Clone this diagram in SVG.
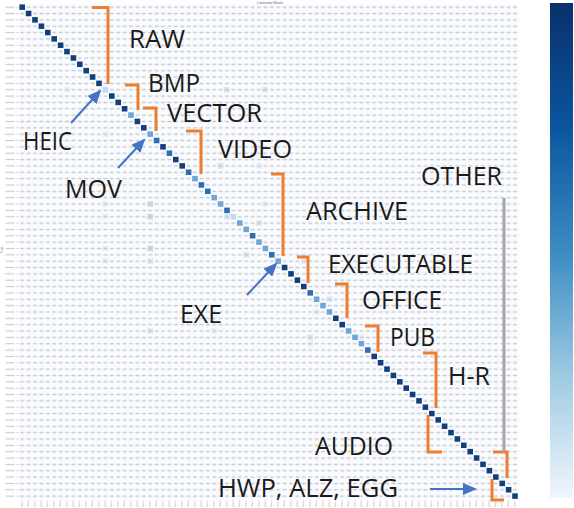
<svg xmlns="http://www.w3.org/2000/svg" width="574" height="508" viewBox="0 0 574 508">
<style>
.lbl{font-family:"Open Sans","Noto Sans",sans-serif;font-size:25px;fill:#1a1a1a}
.br{fill:none;stroke:#ED7D31;stroke-width:3;stroke-linejoin:miter}
.ar{stroke:#4472C4;stroke-width:2;fill:none;marker-end:url(#ah)}
.d{fill:#123f7c}
.m{fill:#2c6fb0}
.l{fill:#6ea6d6}
.v{fill:#c4daee}
.f{fill:#d7e6f4}
.ff{fill:#e6eff8}
.tiny{font-family:"Liberation Sans",sans-serif;font-size:3.5px;fill:#666}
</style>
<defs>
<pattern id="num" patternUnits="userSpaceOnUse" x="19" y="4" width="6.4" height="6.35">
<rect x="1.3" y="2.5" width="3.8" height="1.4" fill="#c4c7cc"/>
</pattern>
<pattern id="ytk" patternUnits="userSpaceOnUse" x="4" y="4" width="15" height="6.35">
<rect x="1.5" y="2.6" width="9" height="1.2" fill="#c9cbcf"/>
<rect x="12.5" y="3" width="2" height="0.5" fill="#999"/>
</pattern>
<pattern id="xtk" patternUnits="userSpaceOnUse" x="19" y="500" width="6.4" height="8">
<rect x="2.6" y="0" width="0.5" height="1.5" fill="#999"/>
<rect x="2.4" y="2" width="1.1" height="5" fill="#c9cbcf"/>
</pattern>
<linearGradient id="cb" x1="0" y1="0" x2="0" y2="1">
<stop offset="0" stop-color="#08306b"/>
<stop offset="0.25" stop-color="#0b559f"/>
<stop offset="0.5" stop-color="#3b8bc2"/>
<stop offset="0.75" stop-color="#9dc9e1"/>
<stop offset="1" stop-color="#f0f6fc"/>
</linearGradient>
<marker id="ah" markerWidth="7" markerHeight="6" refX="6" refY="3" orient="auto" markerUnits="strokeWidth">
<path d="M0,0 L7,3 L0,6 z" fill="#4472C4"/>
</marker>
</defs>
<rect width="574" height="508" fill="#ffffff"/>
<g id="matrix">
<rect x="19" y="4" width="499.2" height="495.3" fill="#f9fbfe"/>
<g id="offdiag">
<rect class="ff" x="64.2" y="86.95" width="5.6" height="5.5"/>
<rect class="f" x="223.8" y="86.95" width="5.6" height="5.5"/>
<rect class="f" x="262.2" y="86.95" width="5.6" height="5.5"/>
<rect class="ff" x="345.8" y="86.95" width="5.6" height="5.5"/>
<rect class="ff" x="102.6" y="131.4" width="5.6" height="5.5"/>
<rect class="f" x="147.4" y="131.4" width="5.6" height="5.5"/>
<rect class="ff" x="102.6" y="201.25" width="5.6" height="5.5"/>
<rect class="v" x="147.4" y="201.25" width="5.6" height="5.5"/>
<rect class="ff" x="102.6" y="213.95" width="5.6" height="5.5"/>
<rect class="v" x="147.4" y="213.95" width="5.6" height="5.5"/>
<rect class="ff" x="102.6" y="245.7" width="5.6" height="5.5"/>
<rect class="v" x="147.4" y="245.7" width="5.6" height="5.5"/>
<rect class="f" x="147.4" y="258.4" width="5.6" height="5.5"/>
<rect class="ff" x="102.6" y="258.4" width="5.6" height="5.5"/>
<rect class="f" x="147.4" y="328.25" width="5.6" height="5.5"/>
<rect class="ff" x="211.4" y="328.25" width="5.6" height="5.5"/>
<rect class="f" x="217.8" y="163.15" width="5.6" height="5.5"/>
<rect class="ff" x="256.2" y="163.15" width="5.6" height="5.5"/>
<rect class="f" x="224.2" y="213.95" width="5.6" height="5.5"/>
<rect class="f" x="256.2" y="220.3" width="5.6" height="5.5"/>
<rect class="ff" x="262.2" y="201.25" width="5.6" height="5.5"/>
<rect class="f" x="243.4" y="252.05" width="5.6" height="5.5"/>
<rect class="f" x="326.6" y="296.5" width="5.6" height="5.5"/>
<rect class="ff" x="313.8" y="309.2" width="5.6" height="5.5"/>
<rect class="f" x="307.4" y="334.6" width="5.6" height="5.5"/>
<rect class="ff" x="307.4" y="340.95" width="5.6" height="5.5"/>
<rect class="ff" x="358.6" y="334.6" width="5.6" height="5.5"/>
<rect class="ff" x="301.0" y="258.4" width="5.6" height="5.5"/>
</g>
<rect x="19" y="4" width="499.2" height="495.3" fill="url(#num)"/>
<g id="diag">
<rect class="d" x="19.4" y="4.4" width="5.6" height="5.5"/>
<rect class="d" x="25.8" y="10.75" width="5.6" height="5.5"/>
<rect class="d" x="32.2" y="17.1" width="5.6" height="5.5"/>
<rect class="d" x="38.6" y="23.45" width="5.6" height="5.5"/>
<rect class="d" x="45.0" y="29.8" width="5.6" height="5.5"/>
<rect class="d" x="51.4" y="36.15" width="5.6" height="5.5"/>
<rect class="d" x="57.8" y="42.5" width="5.6" height="5.5"/>
<rect class="d" x="64.2" y="48.85" width="5.6" height="5.5"/>
<rect class="d" x="70.6" y="55.2" width="5.6" height="5.5"/>
<rect class="d" x="77.0" y="61.55" width="5.6" height="5.5"/>
<rect class="d" x="83.4" y="67.9" width="5.6" height="5.5"/>
<rect class="d" x="89.8" y="74.25" width="5.6" height="5.5"/>
<rect class="d" x="96.2" y="80.6" width="5.6" height="5.5"/>
<rect class="v" x="102.6" y="86.95" width="5.6" height="5.5"/>
<rect class="d" x="109.0" y="93.3" width="5.6" height="5.5"/>
<rect class="d" x="115.4" y="99.65" width="5.6" height="5.5"/>
<rect class="d" x="121.8" y="106.0" width="5.6" height="5.5"/>
<rect class="l" x="128.2" y="112.35" width="5.6" height="5.5"/>
<rect class="d" x="134.6" y="118.7" width="5.6" height="5.5"/>
<rect class="d" x="141.0" y="125.05" width="5.6" height="5.5"/>
<rect class="l" x="147.4" y="131.4" width="5.6" height="5.5"/>
<rect class="m" x="153.8" y="137.75" width="5.6" height="5.5"/>
<rect class="d" x="160.2" y="144.1" width="5.6" height="5.5"/>
<rect class="m" x="166.6" y="150.45" width="5.6" height="5.5"/>
<rect class="d" x="173.0" y="156.8" width="5.6" height="5.5"/>
<rect class="d" x="179.4" y="163.15" width="5.6" height="5.5"/>
<rect class="m" x="185.8" y="169.5" width="5.6" height="5.5"/>
<rect class="l" x="192.2" y="175.85" width="5.6" height="5.5"/>
<rect class="m" x="198.6" y="182.2" width="5.6" height="5.5"/>
<rect class="m" x="205.0" y="188.55" width="5.6" height="5.5"/>
<rect class="l" x="211.4" y="194.9" width="5.6" height="5.5"/>
<rect class="l" x="217.8" y="201.25" width="5.6" height="5.5"/>
<rect class="m" x="224.2" y="207.6" width="5.6" height="5.5"/>
<rect class="v" x="230.6" y="213.95" width="5.6" height="5.5"/>
<rect class="l" x="237.0" y="220.3" width="5.6" height="5.5"/>
<rect class="l" x="243.4" y="226.65" width="5.6" height="5.5"/>
<rect class="m" x="249.8" y="233.0" width="5.6" height="5.5"/>
<rect class="l" x="256.2" y="239.35" width="5.6" height="5.5"/>
<rect class="l" x="262.6" y="245.7" width="5.6" height="5.5"/>
<rect class="m" x="269.0" y="252.05" width="5.6" height="5.5"/>
<rect class="l" x="275.4" y="258.4" width="5.6" height="5.5"/>
<rect class="d" x="281.8" y="264.75" width="5.6" height="5.5"/>
<rect class="d" x="288.2" y="271.1" width="5.6" height="5.5"/>
<rect class="d" x="294.6" y="277.45" width="5.6" height="5.5"/>
<rect class="d" x="301.0" y="283.8" width="5.6" height="5.5"/>
<rect class="m" x="307.4" y="290.15" width="5.6" height="5.5"/>
<rect class="l" x="313.8" y="296.5" width="5.6" height="5.5"/>
<rect class="l" x="320.2" y="302.85" width="5.6" height="5.5"/>
<rect class="l" x="326.6" y="309.2" width="5.6" height="5.5"/>
<rect class="d" x="333.0" y="315.55" width="5.6" height="5.5"/>
<rect class="d" x="339.4" y="321.9" width="5.6" height="5.5"/>
<rect class="l" x="345.8" y="328.25" width="5.6" height="5.5"/>
<rect class="l" x="352.2" y="334.6" width="5.6" height="5.5"/>
<rect class="l" x="358.6" y="340.95" width="5.6" height="5.5"/>
<rect class="m" x="365.0" y="347.3" width="5.6" height="5.5"/>
<rect class="d" x="371.4" y="353.65" width="5.6" height="5.5"/>
<rect class="d" x="377.8" y="360.0" width="5.6" height="5.5"/>
<rect class="d" x="384.2" y="366.35" width="5.6" height="5.5"/>
<rect class="d" x="390.6" y="372.7" width="5.6" height="5.5"/>
<rect class="d" x="397.0" y="379.05" width="5.6" height="5.5"/>
<rect class="d" x="403.4" y="385.4" width="5.6" height="5.5"/>
<rect class="d" x="409.8" y="391.75" width="5.6" height="5.5"/>
<rect class="d" x="416.2" y="398.1" width="5.6" height="5.5"/>
<rect class="d" x="422.6" y="404.45" width="5.6" height="5.5"/>
<rect class="d" x="429.0" y="410.8" width="5.6" height="5.5"/>
<rect class="d" x="435.4" y="417.15" width="5.6" height="5.5"/>
<rect class="d" x="441.8" y="423.5" width="5.6" height="5.5"/>
<rect class="d" x="448.2" y="429.85" width="5.6" height="5.5"/>
<rect class="d" x="454.6" y="436.2" width="5.6" height="5.5"/>
<rect class="d" x="461.0" y="442.55" width="5.6" height="5.5"/>
<rect class="d" x="467.4" y="448.9" width="5.6" height="5.5"/>
<rect class="d" x="473.8" y="455.25" width="5.6" height="5.5"/>
<rect class="d" x="480.2" y="461.6" width="5.6" height="5.5"/>
<rect class="d" x="486.6" y="467.95" width="5.6" height="5.5"/>
<rect class="d" x="493.0" y="474.3" width="5.6" height="5.5"/>
<rect class="d" x="499.4" y="480.65" width="5.6" height="5.5"/>
<rect class="d" x="505.8" y="487.0" width="5.6" height="5.5"/>
<rect class="d" x="512.2" y="493.35" width="5.6" height="5.5"/>
</g>
<rect x="4" y="4" width="15" height="495.3" fill="url(#ytk)"/>
<rect x="19" y="500" width="499.2" height="8" fill="url(#xtk)"/>
<text class="tiny" x="270" y="3.5" text-anchor="middle">Confusion Matrix</text>
<text class="tiny" transform="translate(3,250) rotate(-90)" text-anchor="middle" font-size="2.5">True</text>
</g>
<g id="colorbar">
<rect x="550" y="3" width="23" height="495" fill="url(#cb)"/>
</g>
<g id="connectors">
<path class="br" d="M92,7.5 H108 V84"/>
<path class="br" d="M125,85 H138 V110"/>
<path class="br" d="M143,108 H156 V131"/>
<path class="br" d="M186,131 H201 V174"/>
<path class="br" d="M271,174 H283 V256"/>
<path class="br" d="M297,257 H308 V283"/>
<path class="br" d="M335,284 H347 V318"/>
<path class="br" d="M365,326 H378 V352"/>
<path class="br" d="M423,353 H436 V408"/>
<path class="br" d="M428,415 V452 H442"/>
<path class="br" d="M493,452 H507 V478"/>
<path class="br" d="M492,479 V500 H504"/>
<path d="M504,198 V452" stroke="#a6a6a6" stroke-width="3" fill="none"/>
<path class="ar" d="M71,123 L100,91"/>
<path class="ar" d="M118,168 L144,140"/>
<path class="ar" d="M247,295 L276,264"/>
<path class="ar" d="M430,489 L475,489"/>
</g>
<g id="labels">
<text class="lbl" x="129" y="48" textLength="56" lengthAdjust="spacingAndGlyphs">RAW</text>
<text class="lbl" x="148" y="92" textLength="52" lengthAdjust="spacingAndGlyphs">BMP</text>
<text class="lbl" x="167" y="122" textLength="95" lengthAdjust="spacingAndGlyphs">VECTOR</text>
<text class="lbl" x="218" y="158" textLength="74" lengthAdjust="spacingAndGlyphs">VIDEO</text>
<text class="lbl" x="306" y="220" textLength="102" lengthAdjust="spacingAndGlyphs">ARCHIVE</text>
<text class="lbl" x="421" y="185" textLength="81" lengthAdjust="spacingAndGlyphs">OTHER</text>
<text class="lbl" x="328" y="273" textLength="145" lengthAdjust="spacingAndGlyphs">EXECUTABLE</text>
<text class="lbl" x="362" y="309" textLength="80" lengthAdjust="spacingAndGlyphs">OFFICE</text>
<text class="lbl" x="390" y="346" textLength="45" lengthAdjust="spacingAndGlyphs">PUB</text>
<text class="lbl" x="448" y="385" textLength="42" lengthAdjust="spacingAndGlyphs">H-R</text>
<text class="lbl" x="315" y="455" textLength="78" lengthAdjust="spacingAndGlyphs">AUDIO</text>
<text class="lbl" x="218" y="497" textLength="180" lengthAdjust="spacingAndGlyphs">HWP, ALZ, EGG</text>
<text class="lbl" x="23" y="150" textLength="49" lengthAdjust="spacingAndGlyphs">HEIC</text>
<text class="lbl" x="65" y="198" textLength="57" lengthAdjust="spacingAndGlyphs">MOV</text>
<text class="lbl" x="180" y="323" textLength="42" lengthAdjust="spacingAndGlyphs">EXE</text>
</g>
</svg>
